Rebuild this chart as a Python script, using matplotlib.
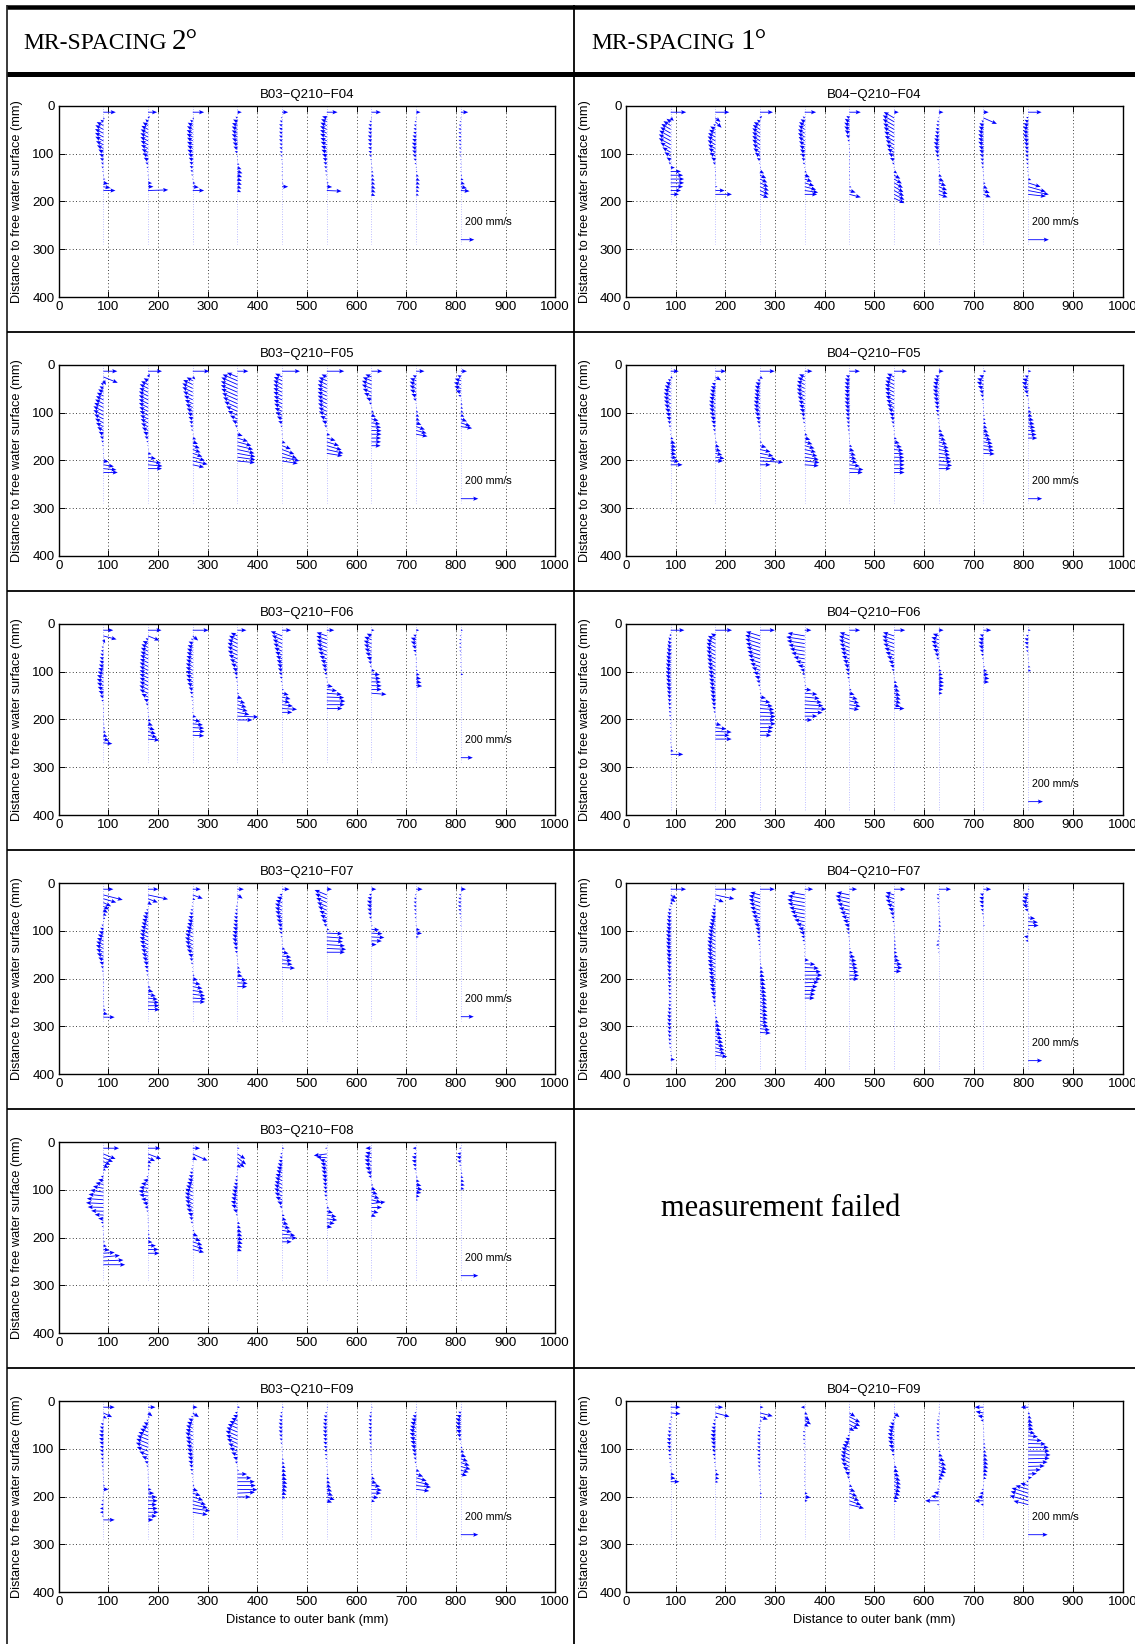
import numpy as np
import matplotlib
matplotlib.use("Agg")
import matplotlib.pyplot as plt
from matplotlib.lines import Line2D

plt.rcParams['font.family'] = ['Liberation Sans', 'DejaVu Sans']

W_PX, H_PX = 1135, 1644

# Measurement verticals (distance to outer bank, mm)
profile_x = [90, 180, 270, 360, 450, 540, 630, 720, 810]
# First value of every profile is the near-surface point; the rest follow on a regular depth grid
surface_depth = 13
first_depth = 25
depth_step = 8

# ---------------------------------------------------------------- B03 (MR-spacing 2 deg)
# u: transverse velocity (mm/s, positive towards inner bank); w: vertical velocity (mm/s, positive upwards)
b03_f04_u = [
    [185, 20, -45, -100, -120, -125, -125, -120, -110, -95, -75, -60, -50, -35, -30, -20, -5, 30, 75, 105, 180],
    [135, 30, -40, -80, -100, -110, -115, -115, -110, -105, -95, -80, -65, -40, -25, -15, -10, 20, 60, 80, 300],
    [170, 20, -40, -75, -85, -90, -90, -85, -85, -80, -80, -70, -60, -50, -45, -35, -25, -10, 40, 90, 170],
    [65, -30, -65, -80, -85, -85, -85, -80, -70, -60, -40, -10, 10, 30, 60, 75, 70, 65, 65, 60, 55],
    [90, -20, -35, -45, -45, -45, -45, -45, -40, -40, -35, -25, -15, -10, 0, 5, 10, 15, 20, 90],
    [160, -70, -85, -95, -100, -100, -100, -95, -90, -85, -80, -70, -60, -50, -40, -30, -20, -10, 30, 80, 220],
    [140, -10, -30, -45, -50, -50, -55, -55, -50, -50, -45, -35, -20, 0, 20, 30, 40, 50, 55, 60, 60, 55],
    [65, -10, -25, -35, -40, -45, -55, -60, -65, -65, -60, -50, -40, -25, -10, 20, 40, 55, 55, 50, 45, 40],
    [110, -10, -20, -30, -35, -35, -35, -35, -30, -30, -25, -20, -15, -10, -5, 10, 20, 40, 60, 90, 130],
]
b03_f04_w = [
    [0, -20, 30, 55, 65, 65, 65, 65, 55, 50, 45, 35, 30, 20, 15, 5, 0, 0, -15, -20, 0],
    [0, 25, 40, 50, 55, 60, 60, 60, 60, 55, 50, 45, 35, 20, 10, 5, 0, 0, -5, 0, 10],
    [0, -20, 30, 45, 50, 50, 50, 50, 45, 45, 40, 40, 35, 30, 25, 20, 10, 5, -5, -10, 0],
    [0, 20, 35, 40, 45, 45, 45, 40, 35, 30, 20, 5, -5, -15, -25, -30, -30, -30, -30, -30, -25],
    [0, 10, 20, 20, 25, 25, 25, 25, 20, 20, 15, 15, 10, 5, 0, -5, -5, -5, -10, 0],
    [0, 25, 40, 45, 50, 50, 50, 45, 45, 40, 40, 35, 30, 25, 20, 15, 10, 5, 0, -5, -10],
    [0, 5, 15, 20, 25, 25, 25, 25, 25, 20, 20, 15, 10, 0, -10, -15, -20, -25, -25, -30, -30, -25],
    [0, 5, 10, 15, 20, 20, 25, 30, 30, 30, 30, 25, 20, 10, 5, -10, -20, -25, -25, -25, -20, -20],
    [0, 5, 10, 15, 15, 15, 15, 15, 15, 15, 10, 10, 5, 5, 0, -5, -10, -15, -20, -25, -10],
]

b03_f05_u = [
    [160, 165, 30, -30, -45, -60, -75, -85, -95, -105, -115, -115, -105, -95, -85, -70, -55, -40, -25, -15, -10, -5, 10, 60, 120, 150, 165],
    [160, 20, -50, -80, -95, -100, -105, -105, -105, -105, -100, -95, -90, -85, -80, -70, -55, -40, -20, -10, 10, 40, 90, 150, 165, 160],
    [190, 30, -70, -110, -120, -120, -110, -100, -90, -80, -70, -60, -50, -40, -30, -20, 10, 40, 60, 80, 90, 110, 140, 170, 130],
    [125, -120, -170, -185, -190, -190, -185, -175, -165, -150, -130, -110, -85, -60, -30, 0, 60, 120, 160, 180, 195, 205, 205, 200],
    [205, -80, -95, -100, -100, -100, -100, -95, -95, -90, -85, -75, -60, -45, -20, -10, 0, 10, 40, 100, 140, 170, 200, 180],
    [200, -60, -90, -100, -105, -105, -105, -105, -100, -100, -95, -90, -75, -55, -30, -10, 40, 100, 140, 170, 190, 180],
    [125, -70, -100, -110, -110, -100, -85, -60, -30, 10, 30, 50, 80, 100, 110, 115, 115, 110, 110, 105],
    [95, -40, -70, -75, -75, -70, -55, -35, -10, 10, 25, 35, 40, 60, 100, 120, 130],
    [70, -40, -70, -80, -75, -60, -30, 10, 20, 25, 30, 40, 70, 110, 130],
]
b03_f05_w = [
    [0, -70, -50, 20, 25, 35, 40, 45, 50, 55, 60, 60, 55, 50, 45, 40, 30, 20, 15, 10, 5, 0, 0, -10, -20, -15, 0],
    [0, 40, 30, 40, 50, 50, 55, 55, 55, 55, 50, 50, 45, 45, 40, 35, 30, 20, 10, 5, 0, -10, -20, -25, -15, 0],
    [0, -30, 40, 55, 60, 60, 55, 50, 45, 40, 35, 30, 25, 20, 15, 10, -5, -15, -25, -30, -35, -40, -40, -40, -30],
    [0, 50, 75, 85, 85, 85, 85, 80, 75, 70, 60, 50, 40, 30, 15, 0, -20, -40, -45, -45, -45, -40, -30, -20],
    [0, 40, 45, 50, 50, 50, 50, 45, 45, 45, 40, 35, 30, 20, 10, 5, 0, -5, -15, -40, -55, -60, -45, -30],
    [0, 30, 40, 50, 50, 50, 50, 50, 50, 50, 45, 45, 35, 25, 15, 5, -10, -30, -45, -50, -45, -30],
    [0, 30, 40, 45, 45, 40, 35, 25, 10, -10, -15, -20, -20, -15, -10, -5, 0, 0, 0, 0],
    [0, 20, 30, 35, 35, 30, 25, 15, 0, -10, -15, -20, -20, -25, -35, -35, -25],
    [0, 20, 25, 25, 25, 20, 10, -10, -15, -15, -15, -20, -30, -40, -20],
]

b03_f06_u = [
    [165, 220, 30, -10, -30, -40, -50, -60, -65, -75, -85, -95, -105, -110, -105, -95, -80, -60, -35, -15, -5, 0, 5, 10, 20, 30, 45, 70, 100, 150],
    [225, 190, -40, -90, -110, -120, -125, -130, -135, -140, -140, -140, -140, -140, -140, -145, -140, -110, -70, -40, -20, -5, 20, 50, 80, 110, 130, 150, 190],
    [265, 90, -30, -70, -85, -95, -100, -105, -110, -115, -115, -115, -110, -105, -90, -70, -50, -35, -20, -10, 0, 10, 60, 130, 170, 190, 200, 190],
    [150, -110, -140, -155, -165, -165, -160, -145, -125, -105, -80, -60, -40, -20, 0, 10, 30, 80, 130, 150, 170, 200, 350, 250],
    [150, -190, -170, -155, -145, -130, -115, -100, -90, -80, -70, -55, -40, -25, -10, 30, 110, 140, 130, 180, 250, 170],
    [125, -170, -175, -170, -165, -155, -140, -120, -100, -85, -65, -45, -25, 20, 100, 170, 250, 290, 310, 300, 260],
    [50, -80, -120, -130, -125, -115, -100, -80, -55, -30, 60, 140, 150, 160, 170, 170, 250],
    [50, -50, -90, -90, -70, -50, -30, -10, 0, 10, 30, 60, 80, 90, 100],
    [35, -20, -30, -30, -30, -25, -20, -15, -10, 0, 20, 40],
]
b03_f06_w = [
    [0, -60, -60, 10, 15, 20, 25, 30, 35, 35, 40, 45, 50, 50, 50, 45, 40, 30, 15, 5, 0, 0, 0, -5, -10, -15, -20, -25, -25, -15],
    [0, -80, 30, 45, 55, 60, 60, 65, 65, 70, 70, 70, 70, 70, 70, 70, 65, 55, 35, 20, 10, 0, -10, -20, -30, -40, -40, -35, -20],
    [0, -80, 20, 35, 40, 45, 50, 50, 55, 55, 55, 55, 55, 50, 45, 35, 25, 15, 10, 5, 0, -5, -15, -25, -20, -10, 0, -10],
    [0, 55, 70, 75, 80, 80, 75, 70, 60, 50, 40, 30, 20, 10, 0, -5, -10, -25, -40, -45, -45, -40, -15, 0],
    [0, 80, 75, 70, 65, 60, 55, 50, 45, 40, 35, 25, 20, 10, 5, -10, -30, -35, -30, -25, -15, 0],
    [0, 60, 65, 65, 65, 60, 55, 50, 45, 35, 30, 20, 10, -5, -20, -25, -20, -10, -5, 0, 0],
    [0, 40, 50, 50, 50, 45, 40, 30, 20, 10, -10, -10, -10, -5, -5, 0, -20],
    [0, 20, 35, 35, 30, 20, 10, 5, 0, -5, -10, -15, -15, -15, -10],
    [0, 10, 10, 10, 10, 10, 5, 5, 5, 0, -5, -10],
]

b03_f07_u = [
    [155, 300, 200, 120, 90, 70, 50, 30, 0, -30, -50, -70, -85, -100, -110, -115, -110, -100, -80, -60, -40, -25, -15, -10, -5, -5, 0, 0, 5, 10, 20, 40, 70, 175],
    [160, 310, 150, 60, 10, -30, -60, -80, -90, -100, -110, -120, -125, -130, -125, -115, -105, -95, -85, -70, -55, -40, -25, -10, 10, 40, 80, 120, 150, 170, 175, 180],
    [125, 155, 40, 0, -20, -35, -50, -65, -75, -85, -95, -105, -115, -120, -115, -105, -90, -70, -50, -30, -15, 0, 30, 80, 120, 150, 170, 190, 200, 190],
    [100, 80, 20, -10, -25, -35, -45, -55, -60, -65, -70, -75, -80, -80, -70, -55, -40, -20, 0, 20, 40, 60, 80, 140, 160, 150],
    [115, -40, -80, -100, -110, -110, -105, -95, -85, -70, -55, -40, -25, -10, 10, 50, 100, 140, 150, 160, 200],
    [80, -190, -180, -165, -150, -135, -115, -100, -80, -50, 40, 240, 260, 250, 280, 300, 280],
    [75, -40, -60, -70, -70, -65, -55, -40, -20, 20, 120, 170, 200, 160, 80],
    [100, -20, -35, -40, -40, -35, -30, -25, -15, 0, 60, 90, 40],
    [80, -30, -40, -45, -45, -40, -30, -20, -10, 10],
]
b03_f07_w = [
    [0, -80, -60, -60, -50, -40, -30, -20, 0, 15, 25, 30, 40, 45, 50, 55, 50, 45, 40, 30, 20, 10, 5, 5, 0, 0, 0, 0, 0, -5, -10, -15, -15, 0],
    [0, -70, -60, -40, -10, 15, 30, 40, 45, 50, 55, 55, 60, 60, 60, 55, 50, 45, 40, 35, 25, 20, 10, 5, -5, -15, -25, -30, -20, -10, 0, 0],
    [0, -60, -20, 0, 10, 15, 25, 30, 35, 40, 45, 50, 55, 55, 55, 50, 45, 35, 25, 15, 5, 0, -5, -15, -25, -30, -30, -25, -15, 0],
    [0, -60, -10, 5, 10, 15, 20, 25, 30, 30, 35, 35, 40, 40, 35, 25, 20, 10, 0, -10, -15, -20, -20, -20, -10, 0],
    [0, 15, 30, 40, 45, 45, 45, 40, 35, 30, 25, 20, 10, 5, -5, -15, -20, -20, -15, -10, -10],
    [0, 80, 80, 75, 65, 60, 50, 45, 35, 20, -10, -10, -20, -15, -20, -15, 0],
    [0, 15, 25, 30, 30, 25, 20, 15, 10, -5, -10, -10, -10, -5, 0],
    [0, 10, 15, 15, 15, 15, 10, 10, 5, 0, -10, -5, 0],
    [0, 10, 15, 15, 15, 15, 10, 5, 5, -5],
]

b03_f08_u = [
    [180, 140, 110, 80, 60, 30, 0, -30, -60, -90, -120, -150, -170, -190, -200, -180, -140, -100, -60, -30, -20, -10, 0, 10, 20, 40, 70, 130, 190, 230, 250],
    [140, 150, 80, 40, 30, 20, 10, -20, -55, -80, -100, -110, -100, -80, -60, -40, -20, -10, 0, 5, 10, 15, 20, 30, 50, 90, 120, 130],
    [85, 170, 50, 10, -10, -20, -35, -45, -55, -65, -75, -85, -90, -90, -85, -80, -70, -55, -40, -25, -10, 20, 60, 90, 110, 120, 130],
    [25, 90, 100, 80, 40, 10, -10, -20, -30, -40, -50, -60, -65, -70, -75, -70, -50, -20, 10, 30, 40, 50, 55, 60, 60, 55, 50],
    [25, -20, -30, -40, -50, -60, -65, -75, -80, -85, -90, -90, -85, -75, -55, -30, 0, 30, 50, 70, 90, 110, 150, 170, 110],
    [-20, -150, -120, -80, -70, -65, -60, -55, -50, -45, -40, -35, -30, -20, 0, 30, 70, 110, 120, 90, 60],
    [-70, -70, -80, -80, -75, -70, -55, -35, -10, 20, 50, 70, 90, 110, 160, 120, 80, 50],
    [-40, -30, -50, -50, -40, -30, -10, 20, 40, 60, 70, 60, 40, 20],
    [-20, -40, -50, -40, -20, 0, 20, 30, 40, 45, 40],
]
b03_f08_w = [
    [0, -60, -50, -40, -30, -15, 0, 10, 15, 20, 25, 25, 20, 15, 10, 5, 5, 5, 5, 5, 0, 0, 0, 0, 0, -10, -10, 10, 20, 10, 0],
    [0, -60, -40, -20, -15, -10, -5, 5, 10, 15, 15, 15, 15, 10, 10, 5, 5, 0, 0, 0, 0, -5, -5, -5, -5, 0, 0, 0],
    [0, -80, -30, -5, 5, 10, 15, 20, 25, 30, 35, 40, 40, 40, 40, 35, 30, 25, 20, 10, 5, -10, -25, -35, -40, -40, -35],
    [0, -60, -80, -70, -30, -10, 5, 10, 15, 20, 25, 30, 30, 30, 30, 30, 20, 10, -5, -15, -20, -25, -25, -25, -25, -25, -20],
    [0, 10, 15, 20, 25, 30, 35, 35, 40, 40, 45, 45, 40, 35, 25, 15, 0, -10, -15, -20, -20, -20, -15, 0, 0],
    [0, -20, 10, 25, 30, 30, 30, 25, 25, 20, 20, 15, 15, 10, 0, -10, -20, -20, -15, -10, -10],
    [0, 20, 25, 25, 25, 20, 15, 10, 0, -10, -20, -25, -30, -30, 20, 0, -20, -20],
    [0, 10, 15, 15, 15, 10, 5, -5, -10, -15, -15, -10, -10, -5],
    [0, 10, 15, 10, 5, 0, -5, -10, -10, -10, -10],
]

b03_f09_u = [
    [130, 100, 40, -10, -30, -40, -45, -50, -50, -45, -40, -40, -35, -30, -25, -20, -15, -10, -5, 0, 20, 60, 10, -10, -20, -30, -40, -40, -20, 130],
    [85, 50, 20, -20, -50, -70, -90, -110, -125, -135, -140, -130, -100, -70, -40, -20, -10, 0, 5, 10, 20, 40, 70, 100, 110, 100, 110, 120, 100, 60],
    [55, 70, -20, -50, -65, -75, -80, -85, -80, -75, -70, -65, -60, -55, -50, -40, -30, -20, -10, 0, 20, 60, 90, 120, 150, 170, 200, 170],
    [30, -30, -50, -70, -90, -110, -125, -135, -130, -120, -105, -90, -70, -50, -30, -10, 20, 110, 160, 200, 210, 230, 200, 150],
    [20, -20, -30, -35, -40, -40, -40, -35, -30, -20, -10, 0, 10, 20, 30, 40, 45, 50, 55, 60, 60, 55, 50, 40],
    [15, -20, -35, -40, -45, -45, -45, -45, -40, -40, -35, -30, -25, -20, -10, 0, 10, 20, 30, 40, 50, 60, 70, 90, 60],
    [15, -20, -30, -35, -35, -35, -35, -30, -30, -25, -20, -20, -15, -10, -5, 0, 10, 20, 40, 60, 100, 120, 110, 80, 40],
    [10, -20, -40, -55, -65, -70, -75, -75, -70, -65, -60, -50, -40, -30, -20, 0, 40, 80, 120, 150, 170, 150],
    [10, -30, -50, -60, -60, -60, -55, -45, -30, -10, 20, 40, 60, 80, 100, 110, 90, 70],
]
b03_f09_w = [
    [0, -50, -20, 10, 15, 20, 20, 20, 20, 20, 15, 15, 15, 10, 10, 10, 5, 5, 0, 0, -5, 0, 0, 5, 5, 5, 0, 0, 0, 0],
    [0, -40, -10, 10, 25, 30, 40, 45, 50, 55, 55, 50, 40, 30, 15, 10, 5, 0, 0, 0, 0, 0, 0, 0, 0, 0, 0, 0, 0, 0],
    [0, -50, 10, 25, 30, 35, 35, 40, 35, 35, 30, 30, 25, 25, 20, 20, 15, 10, 5, 0, -5, -20, -30, -40, -45, -40, -30, -30],
    [0, 10, 20, 30, 40, 50, 55, 60, 55, 55, 45, 40, 30, 20, 10, 5, -5, 0, 0, 0, 0, -5, 10, 0],
    [0, 10, 15, 15, 20, 20, 20, 15, 15, 10, 5, 0, -5, -10, -15, -20, -20, -25, -25, -25, -25, -25, -20, -15],
    [0, 10, 15, 20, 20, 20, 20, 20, 20, 20, 15, 15, 10, 10, 5, 0, -5, -10, -15, -20, -25, -25, -30, -35, -20],
    [0, 10, 15, 15, 15, 15, 15, 15, 10, 10, 10, 10, 5, 5, 0, 0, -5, -10, -15, -20, -10, -10, 0, -10, -10],
    [0, 10, 20, 25, 30, 30, 35, 35, 30, 30, 25, 20, 20, 15, 10, 0, -15, -30, -35, -35, -20, -20],
    [0, 15, 20, 25, 25, 25, 25, 20, 15, 5, -10, -15, -25, -30, -35, -35, -25, -20],
]

# ---------------------------------------------------------------- B04 (MR-spacing 1 deg)
b04_f04_u = [
    [150, 30, -40, -70, -90, -100, -110, -115, -115, -100, -80, -60, -40, -20, 40, 100, 120, 130, 130, 120, 100, 80],
    [135, 50, 60, -20, -50, -60, -70, -75, -75, -70, -65, -55, -40, -25, -10, 0, 5, 10, 10, 20, 90, 160],
    [125, 20, -30, -60, -70, -75, -75, -75, -75, -70, -65, -50, -30, -10, 10, 40, 60, 70, 80, 85, 85, 80],
    [110, -20, -40, -55, -60, -65, -65, -60, -55, -50, -45, -40, -30, -20, -5, 20, 50, 70, 90, 110, 130, 120],
    [110, -30, -45, -50, -50, -45, -35, -20, -10, 0, 5, 5, 5, 5, 5, 5, 5, 5, 10, 20, 60, 110],
    [45, -100, -110, -110, -105, -100, -95, -90, -80, -75, -65, -55, -40, -20, 0, 30, 60, 75, 85, 90, 95, 100, 100],
    [45, -10, -20, -25, -30, -35, -40, -45, -50, -45, -40, -30, -20, -10, 0, 10, 30, 50, 70, 80, 85, 85],
    [50, 130, -20, -40, -45, -50, -50, -50, -50, -45, -40, -35, -30, -25, -20, -10, 0, 10, 20, 40, 60, 70],
    [130, -20, -35, -45, -50, -50, -50, -45, -40, -35, -30, -30, -25, -20, -15, -10, 0, 30, 120, 170, 200, 170],
]
b04_f04_w = [
    [0, -30, 30, 45, 55, 60, 65, 65, 65, 60, 50, 40, 25, 15, 0, 0, 0, 0, 0, 0, 0, 0],
    [0, -40, -60, 15, 30, 35, 40, 45, 45, 40, 40, 35, 25, 15, 5, 0, 0, 0, 0, 0, 0, 0],
    [0, 20, 20, 35, 45, 50, 50, 50, 50, 45, 40, 35, 20, 5, -5, -20, -30, -35, -40, -40, -40, -35],
    [0, 15, 25, 35, 40, 40, 40, 40, 35, 30, 30, 25, 20, 10, 0, -10, -20, -25, -30, -30, -20, 0],
    [0, 20, 30, 30, 30, 30, 20, 10, 5, 0, 0, 0, 0, 0, 0, 0, 0, 0, 0, -5, -20, -30],
    [0, 60, 65, 65, 60, 60, 55, 50, 45, 40, 35, 30, 20, 10, 0, -20, -35, -45, -50, -55, -55, -55, -50],
    [0, 5, 10, 15, 15, 20, 20, 25, 25, 25, 20, 15, 10, 5, 0, -5, -15, -25, -30, -35, -35, -30],
    [0, -60, 15, 25, 30, 30, 30, 30, 30, 25, 25, 20, 15, 15, 10, 5, 0, -5, -10, -20, -25, -30],
    [0, 10, 20, 25, 30, 30, 30, 25, 25, 20, 20, 15, 15, 10, 5, 5, 0, -10, -40, -50, -40, -20],
]

b04_f05_u = [
    [115, 30, -40, -70, -85, -95, -100, -100, -95, -90, -80, -70, -60, -45, -30, -15, 0, 40, 70, 80, 80, 80, 90, 120, 170],
    [150, 80, -20, -50, -65, -75, -80, -85, -90, -90, -85, -80, -70, -60, -45, -35, -20, 0, 30, 60, 80, 100, 130, 110],
    [210, 40, -40, -65, -75, -80, -80, -85, -90, -90, -85, -75, -60, -45, -30, -15, 0, 10, 30, 90, 150, 190, 230, 330, 150],
    [110, -80, -100, -110, -115, -115, -110, -100, -90, -80, -70, -55, -40, -25, -10, 10, 40, 80, 110, 140, 160, 180, 200, 210, 200],
    [150, -50, -65, -70, -70, -70, -70, -70, -70, -65, -60, -55, -50, -40, -35, -25, -15, -5, 10, 40, 70, 90, 100, 110, 150, 200, 190],
    [185, -100, -115, -125, -130, -130, -125, -120, -110, -100, -85, -70, -55, -40, -25, -10, 10, 40, 80, 110, 130, 140, 145, 150, 150, 150, 150],
    [70, -50, -70, -80, -85, -85, -80, -75, -65, -55, -45, -30, -20, -5, 20, 50, 80, 100, 120, 140, 150, 160, 170, 180, 190, 170],
    [40, -60, -90, -95, -80, -60, -45, -30, -15, 0, 10, 20, 30, 40, 55, 70, 90, 110, 130, 140, 150, 160],
    [45, -50, -80, -90, -80, -60, -35, -10, 10, 30, 50, 60, 80, 90, 100, 110, 120, 130],
]
b04_f05_w = [
    [0, -20, 25, 40, 45, 50, 50, 50, 50, 45, 40, 35, 30, 25, 15, 10, 0, -15, -25, -25, -20, -15, -10, -5, 0],
    [0, -50, 10, 25, 35, 40, 40, 45, 45, 45, 45, 40, 35, 30, 25, 20, 10, 0, -10, -20, -25, -25, -20, 0],
    [0, -30, 20, 35, 40, 40, 40, 45, 45, 45, 45, 40, 30, 25, 15, 10, 0, -5, -10, -25, -35, -40, -35, -20, 0],
    [0, 40, 50, 55, 55, 55, 55, 50, 45, 40, 35, 30, 20, 15, 5, -5, -15, -25, -35, -40, -40, -40, -35, -25, -15],
    [0, 25, 35, 35, 35, 35, 35, 35, 35, 35, 30, 30, 25, 20, 20, 15, 10, 0, -5, -15, -25, -30, -30, -25, -20, -15, 0],
    [0, 50, 55, 60, 65, 65, 60, 60, 55, 50, 45, 35, 30, 20, 15, 5, -5, -15, -20, -20, -15, -10, -5, 0, 0, 0, 0],
    [0, 25, 35, 40, 40, 40, 40, 35, 30, 25, 20, 15, 10, 0, -10, -20, -30, -35, -35, -35, -30, -25, -20, -15, -10, 0],
    [0, 25, 35, 40, 35, 25, 20, 10, 5, 0, -5, -10, -15, -20, -25, -30, -30, -30, -25, -20, -15, -10],
    [0, 20, 30, 35, 30, 25, 15, 5, -5, -10, -15, -20, -20, -20, -15, -10, -5, 0],
]

b04_f06_u = [
    [185, -10, -30, -40, -45, -50, -55, -60, -60, -65, -65, -65, -65, -60, -60, -55, -50, -45, -40, -35, -30, -25, -20, -15, -10, -10, -5, 0, 5, 10, 20, 40, 170],
    [225, -60, -100, -115, -120, -120, -120, -115, -110, -105, -100, -95, -90, -85, -80, -75, -70, -65, -60, -50, -40, -25, -10, 20, 80, 150, 220, 190, 220],
    [200, -190, -200, -200, -190, -180, -170, -160, -145, -130, -110, -90, -70, -50, -30, -10, 20, 80, 140, 170, 190, 200, 210, 200, 210, 180, 170, 150],
    [90, -230, -250, -240, -220, -200, -180, -150, -120, -90, -60, -40, -20, -5, 20, 90, 170, 200, 230, 250, 290, 240, 170, 100],
    [145, -130, -140, -140, -130, -120, -110, -100, -85, -70, -55, -40, -30, -15, 0, 30, 70, 110, 130, 150, 130],
    [150, -150, -160, -155, -145, -130, -115, -95, -75, -55, -35, -15, 10, 40, 60, 75, 85, 90, 90, 85, 140],
    [65, -80, -100, -100, -90, -75, -55, -35, -10, 20, 40, 55, 65, 70, 70, 60, 50],
    [105, -50, -65, -70, -65, -50, -35, -20, 0, 20, 50, 70, 80, 75],
    [35, -30, -50, -50, -40, -30, -15, 0, 15, 30, 40],
]
b04_f06_w = [
    [0, 30, 35, 40, 45, 45, 45, 45, 45, 45, 45, 45, 45, 45, 40, 40, 35, 35, 30, 30, 25, 20, 20, 15, 10, 10, 5, 0, 0, -5, -10, -10, 0],
    [0, 35, 55, 60, 65, 65, 65, 60, 60, 55, 55, 50, 50, 45, 45, 40, 40, 35, 35, 30, 25, 15, 5, -10, -20, -20, -10, 0, 0],
    [0, 60, 65, 65, 60, 60, 55, 55, 50, 45, 40, 30, 25, 15, 10, 5, -5, -15, -20, -20, -15, -10, -5, 0, 0, 0, 0, 0],
    [0, 40, 40, 40, 35, 35, 30, 25, 20, 15, 10, 5, 5, 0, -5, -10, -15, -20, -20, -15, -10, -5, 0, 0],
    [0, 50, 55, 55, 50, 45, 45, 40, 35, 30, 20, 15, 10, 5, 0, -10, -20, -30, -30, -25, -15],
    [0, 50, 55, 55, 50, 45, 40, 35, 25, 20, 15, 5, -5, -15, -25, -30, -35, -35, -35, -30, 0],
    [0, 30, 35, 35, 35, 30, 20, 15, 5, -5, -10, -10, -10, -10, -5, 0, 0],
    [0, 20, 25, 25, 25, 20, 15, 10, 0, -5, -10, -10, -10, -5],
    [0, 15, 20, 20, 15, 10, 5, 0, -5, -10, -10],
]

b04_f07_u = [
    [220, 90, 70, 30, -20, -35, -45, -50, -55, -60, -60, -65, -65, -65, -65, -65, -60, -60, -55, -55, -50, -50, -45, -45, -40, -40, -35, -35, -30, -30, -35, -40, -45, -50, -50, -50, -45, -45, -40, -35, -30, -20, -10, 20, 60],
    [305, 270, 120, -10, -30, -45, -55, -65, -75, -85, -95, -100, -105, -110, -115, -115, -115, -115, -110, -110, -105, -100, -95, -90, -85, -80, -75, -65, -55, -40, -25, -10, 10, 30, 50, 70, 80, 90, 100, 110, 120, 130, 140, 170],
    [210, -140, -160, -160, -150, -140, -125, -110, -95, -80, -65, -55, -45, -35, -25, -15, -10, 0, 10, 20, 40, 55, 65, 75, 80, 85, 90, 95, 100, 100, 105, 105, 110, 110, 110, 120, 140, 150],
    [120, -210, -240, -250, -240, -220, -200, -180, -150, -120, -90, -70, -50, -35, -20, -10, 0, 10, 60, 150, 200, 230, 250, 230, 200, 180, 160, 150, 140],
    [110, -180, -200, -190, -170, -150, -130, -110, -90, -70, -50, -35, -20, -10, 0, 20, 50, 80, 100, 110, 120, 130, 140, 130],
    [160, -120, -130, -120, -100, -80, -60, -40, -25, -10, 0, 10, 20, 25, 30, 35, 45, 60, 80, 110, 120, 100],
    [175, -30, -30, -20, -10, 0, 10, 20, 30, 35, 30, 20, 0, -30, -40, -20, 0],
    [110, -50, -60, -60, -50, -40, -25, -10, 10, 20],
    [20, -60, -80, -90, -80, -50, 20, 100, 140, 150, 30, -20, -60, -40],
]
b04_f07_w = [
    [0, -60, -50, -30, 10, 25, 30, 35, 40, 40, 40, 45, 45, 45, 45, 45, 40, 40, 40, 40, 35, 35, 30, 30, 30, 25, 25, 25, 20, 20, 25, 30, 30, 35, 35, 35, 30, 30, 30, 25, 20, 15, 5, -10, -10],
    [0, -60, -50, 10, 20, 25, 30, 35, 40, 45, 50, 55, 55, 55, 60, 60, 60, 60, 55, 55, 55, 50, 50, 45, 45, 40, 40, 35, 30, 20, 15, 5, -5, -15, -25, -30, -35, -40, -40, -40, -40, -35, -30, -20],
    [0, 40, 50, 50, 50, 45, 40, 35, 30, 25, 20, 20, 15, 10, 10, 5, 0, 0, -5, -10, -15, -20, -25, -30, -30, -35, -35, -35, -35, -35, -35, -35, -35, -30, -30, -25, -20, -10],
    [0, 40, 45, 45, 45, 40, 40, 35, 30, 25, 20, 15, 10, 10, 5, 0, 0, 0, -5, -10, -10, -5, 0, 0, 10, 0, 0, 0, 0],
    [0, 40, 45, 45, 40, 35, 30, 25, 20, 15, 10, 10, 5, 0, 0, -5, -10, -15, -15, -15, -10, -10, -5, 0],
    [0, 40, 45, 40, 35, 30, 20, 15, 10, 5, 0, -5, -5, -10, -10, -10, -10, -15, -15, -10, -5, 0],
    [0, 10, 15, 10, 5, 0, -5, -10, -10, -15, -15, -10, 0, -10, -10, -5, 0],
    [0, 20, 25, 25, 20, 15, 10, 5, -5, -5],
    [0, 20, 30, 30, 25, 15, -5, -10, -10, 0, 0, 0, 10, 0],
]

b04_f09_u = [
    [100, 100, 20, -10, -20, -25, -30, -35, -40, -40, -35, -30, -25, -20, -15, -10, 10, 40, 50, 90],
    [80, 145, 30, -20, -30, -40, -45, -50, -50, -45, -40, -35, -30, -20, -15, -10, 20, 40, 40, 30],
    [35, 130, 80, 20, -10, -20, -25, -30, -30, -30, -30, -30, -30, -30, -25, -25, -20, -15, -10, -5, 0, 10, 20, 20],
    [-40, 30, 50, 65, 40, -10, -20, -20, -20, -15, -10, -10, -5, -5, 0, 0, 5, 5, 5, 5, 5, 10, 30, 60, 30],
    [0, 60, 110, 110, 90, 50, 10, -20, -40, -55, -70, -80, -85, -90, -90, -80, -65, -45, -25, 0, 30, 60, 80, 100, 120, 150],
    [10, 55, 20, -20, -40, -55, -60, -65, -65, -60, -55, -40, -25, -10, 10, 30, 45, 55, 65, 70, 70, 65, 60, 50, 30, 10],
    [10, 10, -10, -20, -25, -25, -25, -25, -20, -10, 0, 20, 40, 60, 75, 80, 75, 60, 40, 20, 0, -20, -50, -80, -140, -20],
    [-90, -80, -60, -30, -10, 0, 10, 10, 15, 20, 25, 30, 40, 45, 50, 50, 45, 40, 30, 10, 0, -20, -40, -60, -90, -30],
    [-75, 20, 35, 45, 50, 55, 70, 100, 140, 180, 210, 220, 230, 220, 200, 170, 130, 90, 40, -20, -80, -130, -170, -180, -190, -150],
]
b04_f09_w = [
    [0, -10, -10, 5, 10, 10, 15, 15, 15, 15, 15, 15, 10, 10, 5, 5, 0, -5, -5, 0],
    [0, -40, -10, 10, 15, 15, 20, 20, 20, 20, 15, 15, 10, 10, 5, 5, -5, -10, -10, -5],
    [0, -35, -30, -10, 5, 10, 10, 10, 10, 10, 10, 10, 10, 10, 10, 10, 5, 5, 5, 0, 0, 0, -5, -5],
    [0, -20, -40, -40, -25, 5, 10, 10, 10, 5, 5, 5, 0, 0, 0, 0, 0, 0, 0, 0, 0, 0, -5, -5, 0],
    [0, -40, -60, -60, -50, -30, -10, 10, 20, 25, 35, 40, 40, 45, 45, 40, 35, 25, 15, 0, -15, -25, -35, -40, -45, -40],
    [0, -45, -20, 10, 20, 25, 30, 30, 30, 30, 25, 20, 10, 5, -5, -15, -20, -25, -30, -30, -30, -30, -25, -20, -10, 0],
    [0, -10, 5, 10, 10, 10, 10, 10, 10, 5, 0, -10, -15, -25, -30, -35, -30, -25, -15, -5, 0, 5, 10, 10, 0, 0],
    [0, 15, 10, 5, 5, 0, -5, -5, -5, -10, -10, -15, -15, -20, -20, -20, -20, -15, -10, 0, 0, 0, 0, 0, 0, 0],
    [0, -15, -20, -25, -20, -15, -15, -10, -10, -5, 0, 0, 0, 5, 5, 5, 5, 5, 5, 10, 25, 40, 55, 60, 55, 40],
]

# Quiver scale of each panel (mm/s of velocity per mm of arrow length)
b03_scales = [7.4, 5.7, 8.3, 7.7, 5.7, 5.7]
b04_scales = [4.8, 7.1, 6.7, 7.1, None, 5.1]
ref_speed = 200  # mm/s, reference arrow

b03_titles = ["B03\u2212Q210\u2212F04", "B03\u2212Q210\u2212F05", "B03\u2212Q210\u2212F06",
              "B03\u2212Q210\u2212F07", "B03\u2212Q210\u2212F08", "B03\u2212Q210\u2212F09"]
b04_titles = ["B04\u2212Q210\u2212F04", "B04\u2212Q210\u2212F05", "B04\u2212Q210\u2212F06",
              "B04\u2212Q210\u2212F07", None, "B04\u2212Q210\u2212F09"]
b03_data = [(b03_f04_u, b03_f04_w), (b03_f05_u, b03_f05_w), (b03_f06_u, b03_f06_w),
            (b03_f07_u, b03_f07_w), (b03_f08_u, b03_f08_w), (b03_f09_u, b03_f09_w)]
b04_data = [(b04_f04_u, b04_f04_w), (b04_f05_u, b04_f05_w), (b04_f06_u, b04_f06_w),
            (b04_f07_u, b04_f07_w), None, (b04_f09_u, b04_f09_w)]
# depth of the reference arrow and of the vertical guide lines per panel
b03_ref_depth = [280, 280, 280, 280, 280, 280]
b04_ref_depth = [280, 280, 372, 372, None, 280]
b03_guide_depth = [290, 290, 290, 290, 290, 290]
b04_guide_depth = [290, 290, 390, 390, None, 290]

# ---------------------------------------------------------------- figure
fig = plt.figure(figsize=(W_PX / 100, H_PX / 100), dpi=100)


def fx(x):
    return x / W_PX


def fy(y):
    return 1 - y / H_PX


def pt(px):
    return px * 72 / 100


qkw = dict(angles='xy', scale_units='xy', color='#0000ff', units='dots',
           width=0.85, headwidth=5.0, headlength=6.0, headaxislength=5.0, zorder=3)


def draw_panel(ax, title, u_rows, w_rows, scale, ref_depth, guide_depth, bottom_row):
    ax.set_xlim(0, 1000)
    ax.set_ylim(400, 0)
    ax.set_xticks(np.arange(0, 1001, 100))
    ax.set_yticks(np.arange(0, 401, 100))
    ax.grid(True, color='k', linestyle=(0, (1, 3)), linewidth=0.6, zorder=0)
    ax.set_axisbelow(True)
    ax.tick_params(direction='in', top=True, right=True, length=4, width=0.7,
                   labelsize=9.6, pad=3)
    for sp in ax.spines.values():
        sp.set_linewidth(1.0)
    ax.set_title(title, fontsize=9.5, pad=6)
    ax.set_ylabel("Distance to free water surface (mm)", fontsize=9.2)
    ax.yaxis.set_label_coords(-0.071, 0.5)
    if bottom_row:
        ax.set_xlabel("Distance to outer bank (mm)", fontsize=9.3)
        ax.xaxis.set_label_coords(0.5, -0.115)
    for xp, u_row, w_row in zip(profile_x, u_rows, w_rows):
        n = min(len(u_row), len(w_row))
        depth = np.array([surface_depth] + [first_depth + depth_step * i for i in range(n - 1)])
        ax.plot([xp, xp], [0, guide_depth], linestyle=(0, (1, 2)), color='#a8a8ff',
                linewidth=0.6, zorder=1)
        u = np.array(u_row[:n], dtype=float)
        v = -np.array(w_row[:n], dtype=float)  # depth axis points downwards
        ax.quiver(np.full(n, xp), depth, u, v, scale=scale, **qkw)
    ax.quiver([810], [ref_depth], [ref_speed], [0], scale=scale, **qkw)
    ax.text(818, ref_depth - 37, f"{ref_speed} mm/s", fontsize=7.7, va='center', ha='left')


row_tops = [106, 365, 624, 883, 1142, 1401]
ax_h = 191
col_left = [58.7, 626.0]
ax_w = 496.5

for r in range(6):
    for c in range(2):
        if c == 0:
            title, data, scale = b03_titles[r], b03_data[r], b03_scales[r]
            ref_d, guide_d = b03_ref_depth[r], b03_guide_depth[r]
        else:
            title, data, scale = b04_titles[r], b04_data[r], b04_scales[r]
            ref_d, guide_d = b04_ref_depth[r], b04_guide_depth[r]
        if data is None:
            continue
        ax = fig.add_axes([fx(col_left[c]), fy(row_tops[r] + ax_h), ax_w / W_PX, ax_h / H_PX])
        draw_panel(ax, title, data[0], data[1], scale, ref_d, guide_d, r == 5)

# Table frame
frame = [
    ((7, W_PX), (7.5, 7.5), 4.5),
    ((7, W_PX), (74, 74), 5.0),
    ((7.3, 7.3), (5, H_PX), 1.5),
    ((573.5, 573.5), (5, H_PX), 1.8),
]
for yline in [332, 591, 850, 1109, 1368]:
    frame.append(((7, W_PX), (yline, yline), 1.8))
for (x0, x1), (y0, y1), lw in frame:
    fig.add_artist(Line2D([fx(x0), fx(x1)], [fy(y0), fy(y1)], color='k',
                          linewidth=pt(lw), transform=fig.transFigure, solid_capstyle='butt'))

serif = ['Liberation Serif', 'DejaVu Serif']
fig.text(fx(23), fy(49), "MR-SPACING", fontsize=17, family=serif, ha='left', va='baseline')
fig.text(fx(172), fy(49), "2\u00b0", fontsize=21, family=serif, ha='left', va='baseline')
fig.text(fx(591), fy(49), "MR-SPACING", fontsize=17, family=serif, ha='left', va='baseline')
fig.text(fx(740), fy(49), "1\u00b0", fontsize=21, family=serif, ha='left', va='baseline')
fig.text(fx(781), fy(1208), "measurement failed", fontsize=22, family=serif,
         ha='center', va='center')

fig.savefig("out.png", dpi=100)
